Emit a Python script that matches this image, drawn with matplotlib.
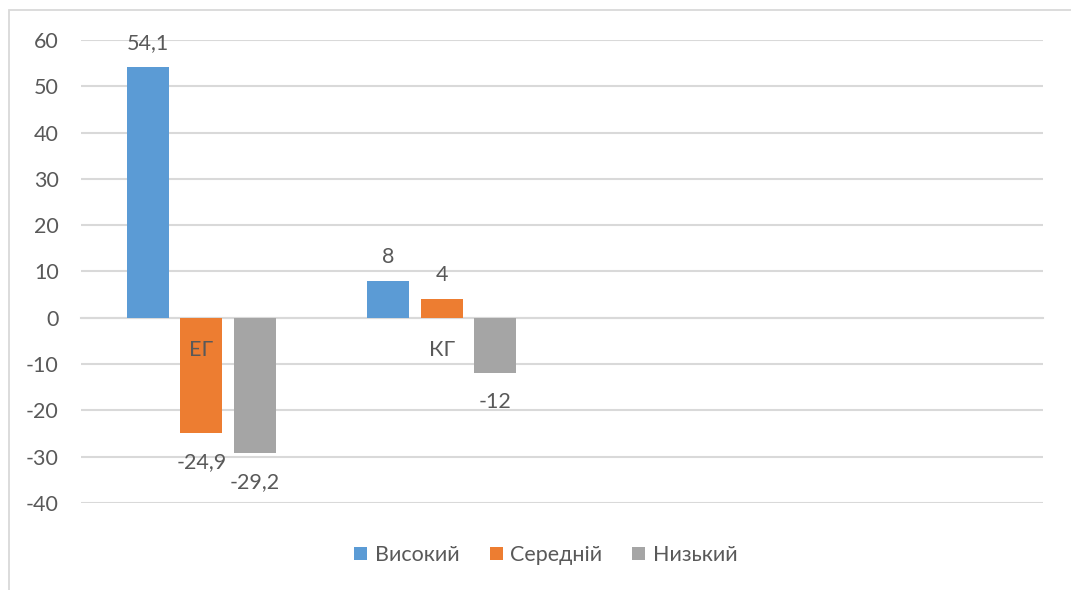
import matplotlib
matplotlib.use("Agg")
import matplotlib.pyplot as plt
from matplotlib.patches import Rectangle
import numpy as np

categories = ["ЕГ", "КГ", "", ""]
series_names = ["Високий", "Середній", "Низький"]
vysokyi = [54.1, 8, None, None]
serednii = [-24.9, 4, None, None]
nyzkyi = [-29.2, -12, None, None]
value_labels = [["54,1", "8"], ["-24,9", "4"], ["-29,2", "-12"]]
yticks = [-40, -30, -20, -10, 0, 10, 20, 30, 40, 50, 60]

colors = ["#5B9BD5", "#ED7D31", "#A5A5A5"]
text_color = "#595959"
grid_color = "#D9D9D9"
fs = 15.5

plt.rcParams['font.family'] = ['Lato', 'DejaVu Sans']

fig = plt.figure(figsize=(10.71, 5.90), dpi=100)
fig.patches.append(Rectangle((9/1071, -0.1), 1.2, 1 - 10/590 + 0.1, transform=fig.transFigure,
                             fill=False, edgecolor=grid_color, linewidth=1.3, zorder=0))
ax = fig.add_axes([81/1071, 87/590, 962/1071, 463/590])

x = np.arange(len(categories))
width = 0.175
step = 0.2225
all_series = [vysokyi, serednii, nyzkyi]
for i, (vals, name, col) in enumerate(zip(all_series, series_names, colors)):
    xs = [xi + (i - 1) * step for xi, v in zip(x, vals) if v is not None]
    vs = [v for v in vals if v is not None]
    bars = ax.bar(xs, vs, width=width, color=col, label=name, zorder=3)
    for b, v, lab in zip(bars, vs, value_labels[i]):
        off = 24 if v >= 0 else -29
        ax.annotate(lab, (b.get_x() + b.get_width() / 2, v), xytext=(0, off),
                    textcoords="offset pixels", ha="center", va="center",
                    fontsize=fs, color=text_color, zorder=4)

# category labels next to the horizontal axis (drawn above bars)
for xi, cat in zip(x, categories):
    if cat:
        ax.annotate(cat, (xi, 0), xytext=(0, -32), textcoords="offset pixels",
                    ha="center", va="center", fontsize=fs, color=text_color, zorder=5)

ax.set_xlim(-0.5, len(categories) - 0.5)
ax.set_ylim(-40, 60)
ax.set_yticks(yticks)
ax.set_yticklabels([str(t) for t in yticks])
ax.set_xticks(x)
ax.set_xticklabels([])
ax.grid(axis="y", color=grid_color, linewidth=1.5, zorder=0)
ax.set_axisbelow(True)
for s in ["top", "right", "left"]:
    ax.spines[s].set_visible(False)
ax.spines["bottom"].set_position(("data", 0))
ax.spines["bottom"].set_color(grid_color)
ax.spines["bottom"].set_linewidth(1.5)
ax.tick_params(axis="x", length=0)
ax.tick_params(axis="y", length=0, pad=16, labelsize=fs, labelcolor=text_color)

fig.legend(loc="center", bbox_to_anchor=(546/1071, 1 - 555/590), ncol=3, frameon=False,
           fontsize=fs, labelcolor=text_color, handlelength=0.6, handleheight=0.6,
           handletextpad=0.35, columnspacing=1.4)

fig.savefig("out.png", dpi=100)
